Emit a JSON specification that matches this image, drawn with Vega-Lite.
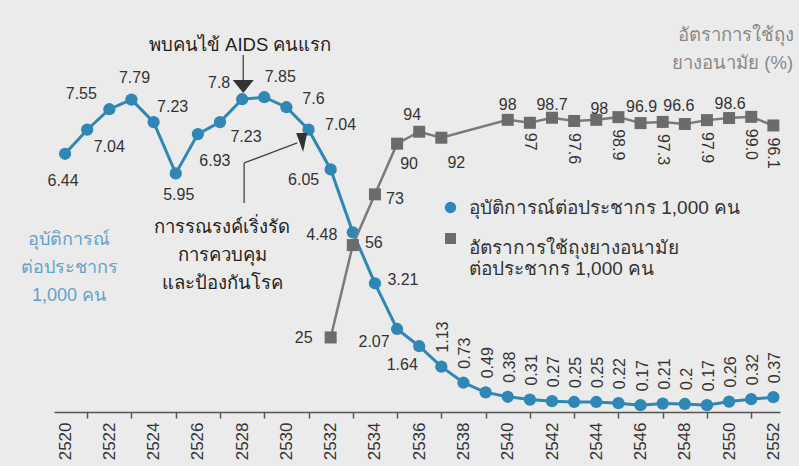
{
 "$schema": "https://vega.github.io/schema/vega-lite/v6.json",
 "width": 726, "height": 401,
 "autosize": {"type": "none"},
 "padding": {"left": 54, "top": 11, "right": 19, "bottom": 54},
 "background": "#ebebeb",
 "config": {"view": {"stroke": null}, "font": "Liberation Sans", "text": {"font": "Liberation Sans", "fontSize": 16, "color": "#333"}},
 "datasets": {
  "inc": [
   {"year": 2520, "v": 6.44}, {"year": 2521, "v": 7.04}, {"year": 2522, "v": 7.55}, {"year": 2523, "v": 7.79},
   {"year": 2524, "v": 7.23}, {"year": 2525, "v": 5.95}, {"year": 2526, "v": 6.93}, {"year": 2527, "v": 7.23},
   {"year": 2528, "v": 7.8}, {"year": 2529, "v": 7.85}, {"year": 2530, "v": 7.6}, {"year": 2531, "v": 7.04},
   {"year": 2532, "v": 6.05}, {"year": 2533, "v": 4.48}, {"year": 2534, "v": 3.21}, {"year": 2535, "v": 2.07},
   {"year": 2536, "v": 1.64}, {"year": 2537, "v": 1.13}, {"year": 2538, "v": 0.73}, {"year": 2539, "v": 0.49},
   {"year": 2540, "v": 0.38}, {"year": 2541, "v": 0.31}, {"year": 2542, "v": 0.27}, {"year": 2543, "v": 0.25},
   {"year": 2544, "v": 0.25}, {"year": 2545, "v": 0.22}, {"year": 2546, "v": 0.17}, {"year": 2547, "v": 0.21},
   {"year": 2548, "v": 0.2}, {"year": 2549, "v": 0.17}, {"year": 2550, "v": 0.26}, {"year": 2551, "v": 0.32},
   {"year": 2552, "v": 0.37}
  ],
  "cond": [
   {"year": 2532, "v": 25}, {"year": 2533, "v": 56}, {"year": 2534, "v": 73}, {"year": 2535, "v": 90},
   {"year": 2536, "v": 94}, {"year": 2537, "v": 92}, {"year": 2540, "v": 98}, {"year": 2541, "v": 97},
   {"year": 2542, "v": 98.7}, {"year": 2543, "v": 97.6}, {"year": 2544, "v": 98}, {"year": 2545, "v": 98.9},
   {"year": 2546, "v": 96.9}, {"year": 2547, "v": 97.3}, {"year": 2548, "v": 96.6}, {"year": 2549, "v": 97.9},
   {"year": 2550, "v": 98.6}, {"year": 2551, "v": 99.0}, {"year": 2552, "v": 96.1}
  ],
  "ann": [
   {"k": "aids", "year": 2527.91, "v": 9.15, "t": "พบคนไข้ AIDS คนแรก"},
   {"k": "camp", "year": 2527.1, "v": 4.61, "t": "การรณรงค์เริ่งรัด"},
   {"k": "camp", "year": 2527.1, "v": 3.92, "t": "การควบคุม"},
   {"k": "camp", "year": 2527.1, "v": 3.22, "t": "และป้องกันโรค"},
   {"k": "inc", "year": 2520.18, "v": 4.29, "t": "อุบัติการณ์"},
   {"k": "inc", "year": 2520.18, "v": 3.59, "t": "ต่อประชากร"},
   {"k": "inc", "year": 2520.18, "v": 2.89, "t": "1,000 คน"},
   {"k": "cond", "year": 2547.71, "v": 9.4, "t": "อัตราการใช้ถุง"},
   {"k": "cond", "year": 2547.43, "v": 8.7, "t": "ยางอนามัย (%)"}
  ],
  "arrows": [
   {"year": 2528.05, "v": 8.9, "year2": 2528.05, "v2": 8.2},
   {"year": 2528.09, "v": 5.21, "year2": 2528.09, "v2": 6.21},
   {"year": 2528.09, "v": 6.21, "year2": 2530.49, "v2": 6.71}
  ],
  "heads": [
   {"id": "aids", "year": 2528.05, "v": 8.12},
   {"id": "camp", "year": 2530.69, "v": 6.72}
  ]
 },
 "layer": [
  {
   "data": {"name": "inc"},
   "encoding": {
    "x": {"field": "year", "type": "quantitative", "scale": {"domain": [2519.5, 2552.3], "nice": false, "zero": false},
     "axis": {"orient": "bottom", "offset": 0, "values": [2520,2522,2524,2526,2528,2530,2532,2534,2536,2538,2540,2542,2544,2546,2548,2550,2552],
      "title": null, "grid": false, "ticks": false, "labelAngle": -90, "labelAlign": "right", "labelBaseline": "middle",
      "labelFont": "Liberation Sans", "labelFontSize": 17, "labelColor": "#333", "labelPadding": 10,
      "domainColor": "#555", "domainWidth": 1.5,
      "labelExpr": "'' + datum.value", "labelOverlap": false, "labelFlush": false}},
    "y": {"field": "v", "type": "quantitative", "scale": {"domain": [0, 10], "nice": false, "zero": false}, "axis": null}
   },
   "layer": [
    {"mark": {"type": "line", "color": "#2f87b5", "strokeWidth": 3}},
    {"mark": {"type": "point", "filled": true, "shape": "circle", "size": 150, "opacity": 1},
     "encoding": {"color": {"datum": "อุบัติการณ์ต่อประชากร 1,000 คน", "type": "nominal", "scale": {"range": ["#2f87b5"]},
      "legend": {"orient": "none", "legendX": 387, "legendY": 187, "title": null, "padding": 0, "symbolType": "circle", "symbolSize": 130, "symbolOpacity": 1,
       "labelFontSize": 19, "labelColor": "#333", "labelOffset": 9, "labelLimit": 400}}}},
    {"transform": [{"filter": "datum.year==2520"}], "mark": {"type": "text", "dx": -2, "dy": 27}, "encoding": {"text": {"field": "v", "type": "quantitative"}}},
    {"transform": [{"filter": "datum.year==2521"}], "mark": {"type": "text", "dx": 22, "dy": 17}, "encoding": {"text": {"field": "v", "type": "quantitative"}}},
    {"transform": [{"filter": "datum.year==2522"}], "mark": {"type": "text", "dx": -28, "dy": -15}, "encoding": {"text": {"field": "v", "type": "quantitative"}}},
    {"transform": [{"filter": "datum.year==2523"}], "mark": {"type": "text", "dx": 3, "dy": -22}, "encoding": {"text": {"field": "v", "type": "quantitative"}}},
    {"transform": [{"filter": "datum.year==2524"}], "mark": {"type": "text", "dx": 19, "dy": -15}, "encoding": {"text": {"field": "v", "type": "quantitative"}}},
    {"transform": [{"filter": "datum.year==2525"}], "mark": {"type": "text", "dx": 3, "dy": 22}, "encoding": {"text": {"field": "v", "type": "quantitative"}}},
    {"transform": [{"filter": "datum.year==2526"}], "mark": {"type": "text", "dx": 17, "dy": 27}, "encoding": {"text": {"field": "v", "type": "quantitative"}}},
    {"transform": [{"filter": "datum.year==2527"}], "mark": {"type": "text", "dx": 26, "dy": 15}, "encoding": {"text": {"field": "v", "type": "quantitative"}}},
    {"transform": [{"filter": "datum.year==2528"}], "mark": {"type": "text", "dx": -23, "dy": -16}, "encoding": {"text": {"field": "v", "type": "quantitative"}}},
    {"transform": [{"filter": "datum.year==2529"}], "mark": {"type": "text", "dx": 16, "dy": -20}, "encoding": {"text": {"field": "v", "type": "quantitative"}}},
    {"transform": [{"filter": "datum.year==2530"}], "mark": {"type": "text", "dx": 27, "dy": -8}, "encoding": {"text": {"field": "v", "type": "quantitative"}}},
    {"transform": [{"filter": "datum.year==2531"}], "mark": {"type": "text", "dx": 32, "dy": -5}, "encoding": {"text": {"field": "v", "type": "quantitative"}}},
    {"transform": [{"filter": "datum.year==2532"}], "mark": {"type": "text", "dx": -27, "dy": 11}, "encoding": {"text": {"field": "v", "type": "quantitative"}}},
    {"transform": [{"filter": "datum.year==2533"}], "mark": {"type": "text", "dx": -31, "dy": 3}, "encoding": {"text": {"field": "v", "type": "quantitative"}}},
    {"transform": [{"filter": "datum.year==2534"}], "mark": {"type": "text", "dx": 28, "dy": -3}, "encoding": {"text": {"field": "v", "type": "quantitative"}}},
    {"transform": [{"filter": "datum.year==2535"}], "mark": {"type": "text", "dx": -23, "dy": 13}, "encoding": {"text": {"field": "v", "type": "quantitative"}}},
    {"transform": [{"filter": "datum.year==2536"}], "mark": {"type": "text", "dx": -17, "dy": 19}, "encoding": {"text": {"field": "v", "type": "quantitative"}}},
    {"transform": [{"filter": "datum.year>=2537"}], "mark": {"type": "text", "angle": -90, "align": "left", "baseline": "middle", "dx": 14, "dy": 2}, "encoding": {"text": {"field": "v", "type": "quantitative"}}},
    {"data": {"name": "ann"}, "transform": [{"filter": "datum.k=='aids' || datum.k=='camp'"}], "mark": {"type": "text", "fontSize": 18.5, "color": "#222"}, "encoding": {"text": {"field": "t"}}},
    {"data": {"name": "ann"}, "transform": [{"filter": "datum.k=='inc'"}], "mark": {"type": "text", "fontSize": 18, "color": "#5fa3cc"}, "encoding": {"text": {"field": "t"}}},
    {"data": {"name": "ann"}, "transform": [{"filter": "datum.k=='cond'"}], "mark": {"type": "text", "fontSize": 18.5, "color": "#888", "align": "left"}, "encoding": {"text": {"field": "t"}}},
    {"data": {"name": "arrows"}, "mark": {"type": "rule", "color": "#444", "strokeWidth": 1.3}, "encoding": {"x2": {"field": "year2"}, "y2": {"field": "v2"}}},
    {"data": {"name": "heads"}, "transform": [{"filter": "datum.id=='aids'"}], "mark": {"type": "point", "filled": true, "color": "#333", "opacity": 1, "size": 441, "shape": "M-1,-0.62L1,-0.62L0,0.62Z"}},
    {"data": {"name": "heads"}, "transform": [{"filter": "datum.id=='camp'"}], "mark": {"type": "point", "filled": true, "color": "#333", "opacity": 1, "size": 361, "shape": "M-0.58,-1L0.58,-1L0.15,1Z"}}
   ]
  },
  {
   "data": {"name": "cond"},
   "encoding": {
    "x": {"field": "year", "type": "quantitative", "scale": {"domain": [2519.5, 2552.3], "nice": false, "zero": false},
     "axis": {"orient": "bottom", "offset": 0, "values": [2521,2523,2525,2527,2529,2531,2533,2535,2537,2539,2541,2543,2545,2547,2549,2551],
      "title": null, "grid": false, "labels": false, "domain": false, "ticks": true, "tickSize": 6, "tickWidth": 1.5, "tickColor": "#555"}},
    "y": {"field": "v", "type": "quantitative", "scale": {"domain": [0, 134.5], "nice": false, "zero": false}, "axis": null}
   },
   "layer": [
    {"mark": {"type": "line", "color": "#7a7a7a", "strokeWidth": 2.5}},
    {"mark": {"type": "point", "filled": true, "shape": "square", "size": 144, "opacity": 1},
     "encoding": {"color": {"datum": "อัตราการใช้ถุงยางอนามัย", "type": "nominal", "scale": {"range": ["#6b6b6b"]},
      "legend": {"orient": "none", "legendX": 387, "legendY": 218, "title": null, "padding": 0, "symbolType": "square", "symbolSize": 120, "symbolOpacity": 1,
       "labelFontSize": 19, "labelColor": "#333", "labelOffset": 9, "labelLimit": 400, "labelBaseline": "top",
       "labelExpr": "['อัตราการใช้ถุงยางอนามัย', 'ต่อประชากร 1,000 คน']"}}}},
    {"transform": [{"filter": "datum.year==2532"}], "mark": {"type": "text", "dx": -27, "dy": 1}, "encoding": {"text": {"field": "v", "type": "quantitative"}}},
    {"transform": [{"filter": "datum.year==2533"}], "mark": {"type": "text", "dx": 21, "dy": -2}, "encoding": {"text": {"field": "v", "type": "quantitative"}}},
    {"transform": [{"filter": "datum.year==2534"}], "mark": {"type": "text", "dx": 20, "dy": 5}, "encoding": {"text": {"field": "v", "type": "quantitative"}}},
    {"transform": [{"filter": "datum.year==2535"}], "mark": {"type": "text", "dx": 12, "dy": 20}, "encoding": {"text": {"field": "v", "type": "quantitative"}}},
    {"transform": [{"filter": "datum.year==2536"}], "mark": {"type": "text", "dx": -7, "dy": -17}, "encoding": {"text": {"field": "v", "type": "quantitative"}}},
    {"transform": [{"filter": "datum.year==2537"}], "mark": {"type": "text", "dx": 15, "dy": 25}, "encoding": {"text": {"field": "v", "type": "quantitative"}}},
    {"transform": [{"filter": "datum.year==2540"}], "mark": {"type": "text", "dx": 0, "dy": -15}, "encoding": {"text": {"field": "v", "type": "quantitative"}}},
    {"transform": [{"filter": "datum.year==2542"}], "mark": {"type": "text", "dx": 0, "dy": -13}, "encoding": {"text": {"field": "v", "type": "quantitative"}}},
    {"transform": [{"filter": "datum.year==2544"}], "mark": {"type": "text", "dx": 3, "dy": -11}, "encoding": {"text": {"field": "v", "type": "quantitative"}}},
    {"transform": [{"filter": "datum.year==2546"}], "mark": {"type": "text", "dx": 1, "dy": -16}, "encoding": {"text": {"field": "v", "type": "quantitative"}}},
    {"transform": [{"filter": "datum.year==2548"}], "mark": {"type": "text", "dx": -6, "dy": -18}, "encoding": {"text": {"field": "v", "type": "quantitative"}}},
    {"transform": [{"filter": "datum.year==2550"}], "mark": {"type": "text", "dx": 1, "dy": -14}, "encoding": {"text": {"field": "v", "type": "quantitative"}}},
    {"transform": [{"filter": "datum.year==2541"}], "mark": {"type": "text", "angle": 90, "align": "left", "baseline": "middle", "dx": 10, "dy": 0}, "encoding": {"text": {"field": "v", "type": "quantitative"}}},
    {"transform": [{"filter": {"field": "year", "oneOf": [2543, 2545, 2547, 2549, 2551, 2552]}}], "mark": {"type": "text", "angle": 90, "align": "left", "baseline": "middle", "dx": 12, "dy": 0}, "encoding": {"text": {"field": "v", "type": "quantitative", "format": ".1f"}}}
   ]
  }
 ],
 "resolve": {"scale": {"y": "independent", "color": "independent"}, "axis": {"x": "independent"}, "legend": {"color": "independent"}}
}
